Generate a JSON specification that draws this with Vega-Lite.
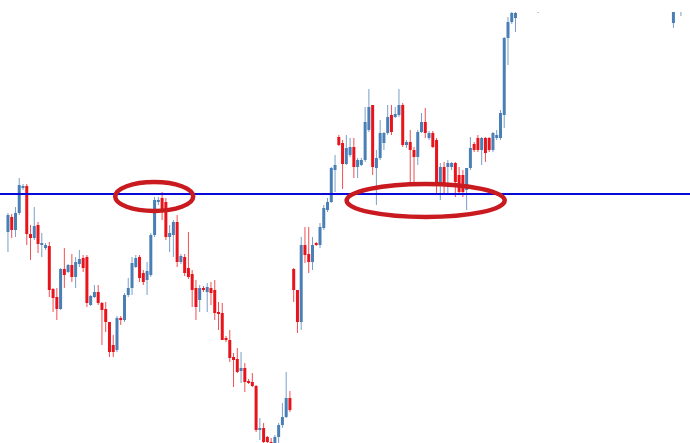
{
"$schema": "https://vega.github.io/schema/vega-lite/v6.json",
"width": 690, "height": 431,
"autosize": {"type": "none"},
"padding": {"top": 12, "left": 0, "right": 0, "bottom": 0},
"background": "white",
"config": {"view": {"stroke": null}},
"datasets": {
"candles": [
{"t":0,"o":211,"c":228,"h":230,"l":191},
{"t":1,"o":226,"c":213,"h":229,"l":205},
{"t":2,"o":213,"c":230,"h":236,"l":206},
{"t":3,"o":230,"c":258,"h":265,"l":228},
{"t":4,"o":255,"c":257,"h":259,"l":253},
{"t":5,"o":257,"c":209,"h":259,"l":198},
{"t":6,"o":209,"c":205,"h":218,"l":183},
{"t":7,"o":205,"c":217,"h":236,"l":203},
{"t":8,"o":218,"c":199,"h":221,"l":190},
{"t":9,"o":198,"c":200,"h":210,"l":186},
{"t":10,"o":195,"c":198,"h":200,"l":193},
{"t":11,"o":197,"c":153,"h":201,"l":146},
{"t":12,"o":154,"c":145,"h":155,"l":131},
{"t":13,"o":146,"c":134,"h":155,"l":123},
{"t":14,"o":134,"c":174,"h":175,"l":133},
{"t":15,"o":174,"c":168,"h":195,"l":155},
{"t":16,"o":171,"c":178,"h":179,"l":170},
{"t":17,"o":178,"c":166,"h":189,"l":161},
{"t":18,"o":166,"c":181,"h":186,"l":155},
{"t":19,"o":179,"c":184,"h":193,"l":176},
{"t":20,"o":185,"c":175,"h":188,"l":171},
{"t":21,"o":186,"c":140,"h":188,"l":136},
{"t":22,"o":138,"c":147,"h":148,"l":137},
{"t":23,"o":146,"c":151,"h":158,"l":145},
{"t":24,"o":151,"c":140,"h":158,"l":138},
{"t":25,"o":140,"c":133,"h":141,"l":98},
{"t":26,"o":134,"c":121,"h":141,"l":111},
{"t":27,"o":121,"c":91,"h":121,"l":86},
{"t":28,"o":98,"c":91,"h":108,"l":86},
{"t":29,"o":93,"c":125,"h":127,"l":91},
{"t":30,"o":125,"c":123,"h":127,"l":118},
{"t":31,"o":123,"c":148,"h":150,"l":121},
{"t":32,"o":148,"c":155,"h":165,"l":146},
{"t":33,"o":155,"c":180,"h":186,"l":148},
{"t":34,"o":176,"c":185,"h":188,"l":175},
{"t":35,"o":186,"c":165,"h":188,"l":161},
{"t":36,"o":170,"c":161,"h":173,"l":158},
{"t":37,"o":163,"c":172,"h":181,"l":148},
{"t":38,"o":168,"c":208,"h":210,"l":166},
{"t":39,"o":208,"c":243,"h":246,"l":206},
{"t":40,"o":241,"c":243,"h":246,"l":238},
{"t":41,"o":245,"c":233,"h":251,"l":223},
{"t":42,"o":241,"c":206,"h":245,"l":203},
{"t":43,"o":206,"c":210,"h":218,"l":191},
{"t":44,"o":208,"c":221,"h":223,"l":186},
{"t":45,"o":221,"c":181,"h":228,"l":176},
{"t":46,"o":181,"c":187,"h":189,"l":179},
{"t":47,"o":186,"c":170,"h":189,"l":167},
{"t":48,"o":175,"c":166,"h":211,"l":164},
{"t":49,"o":169,"c":153,"h":173,"l":136},
{"t":50,"o":155,"c":136,"h":163,"l":123},
{"t":51,"o":143,"c":155,"h":158,"l":131},
{"t":52,"o":155,"c":153,"h":157,"l":151},
{"t":53,"o":151,"c":156,"h":160,"l":131},
{"t":54,"o":155,"c":150,"h":161,"l":138},
{"t":55,"o":153,"c":130,"h":163,"l":123},
{"t":56,"o":131,"c":129,"h":141,"l":113},
{"t":57,"o":130,"c":103,"h":140,"l":103},
{"t":58,"o":105,"c":103,"h":107,"l":101},
{"t":59,"o":103,"c":85,"h":113,"l":81},
{"t":60,"o":86,"c":83,"h":90,"l":56},
{"t":61,"o":84,"c":71,"h":95,"l":70},
{"t":62,"o":72,"c":75,"h":91,"l":60},
{"t":63,"o":75,"c":61,"h":80,"l":51},
{"t":64,"o":62,"c":60,"h":64,"l":59},
{"t":65,"o":61,"c":57,"h":70,"l":56},
{"t":66,"o":57,"c":13,"h":58,"l":11},
{"t":67,"o":13,"c":15,"h":25,"l":3},
{"t":68,"o":15,"c":1,"h":20,"l":-2},
{"t":69,"o":6,"c":1,"h":7,"l":-3},
{"t":70,"o":1,"c":-7,"h":5,"l":-12},
{"t":71,"o":-7,"c":6,"h":8,"l":-9},
{"t":72,"o":6,"c":18,"h":20,"l":-2},
{"t":73,"o":18,"c":26,"h":40,"l":15},
{"t":74,"o":26,"c":45,"h":71,"l":25},
{"t":75,"o":45,"c":33,"h":52,"l":31},
{"t":76,"o":174,"c":153,"h":175,"l":141},
{"t":77,"o":153,"c":121,"h":153,"l":110},
{"t":78,"o":121,"c":198,"h":206,"l":113},
{"t":79,"o":198,"c":188,"h":216,"l":180},
{"t":80,"o":189,"c":181,"h":216,"l":170},
{"t":81,"o":181,"c":198,"h":206,"l":173},
{"t":82,"o":200,"c":198,"h":201,"l":197},
{"t":83,"o":198,"c":216,"h":220,"l":195},
{"t":84,"o":215,"c":235,"h":238,"l":213},
{"t":85,"o":233,"c":241,"h":245,"l":231},
{"t":86,"o":241,"c":275,"h":276,"l":240},
{"t":87,"o":273,"c":278,"h":288,"l":251},
{"t":88,"o":306,"c":298,"h":308,"l":297},
{"t":89,"o":300,"c":279,"h":303,"l":254},
{"t":90,"o":279,"c":295,"h":308,"l":278},
{"t":91,"o":288,"c":296,"h":305,"l":286},
{"t":92,"o":296,"c":276,"h":305,"l":265},
{"t":93,"o":276,"c":283,"h":285,"l":265},
{"t":94,"o":278,"c":283,"h":285,"l":277},
{"t":95,"o":283,"c":321,"h":336,"l":281},
{"t":96,"o":313,"c":336,"h":354,"l":311},
{"t":97,"o":338,"c":276,"h":338,"l":268},
{"t":98,"o":275,"c":285,"h":293,"l":238},
{"t":99,"o":285,"c":310,"h":323,"l":283},
{"t":100,"o":300,"c":310,"h":311,"l":293},
{"t":101,"o":310,"c":326,"h":338,"l":308},
{"t":102,"o":328,"c":311,"h":338,"l":308},
{"t":103,"o":326,"c":329,"h":336,"l":325},
{"t":104,"o":328,"c":338,"h":354,"l":326},
{"t":105,"o":338,"c":298,"h":340,"l":296},
{"t":106,"o":298,"c":301,"h":303,"l":295},
{"t":107,"o":301,"c":293,"h":313,"l":261},
{"t":108,"o":293,"c":286,"h":296,"l":260},
{"t":109,"o":286,"c":311,"h":313,"l":278},
{"t":110,"o":311,"c":321,"h":330,"l":310},
{"t":111,"o":321,"c":310,"h":335,"l":305},
{"t":112,"o":305,"c":310,"h":312,"l":303},
{"t":113,"o":310,"c":296,"h":312,"l":295},
{"t":114,"o":303,"c":261,"h":305,"l":248},
{"t":115,"o":260,"c":276,"h":280,"l":243},
{"t":116,"o":276,"c":260,"h":281,"l":248},
{"t":117,"o":276,"c":280,"h":283,"l":248},
{"t":118,"o":276,"c":280,"h":281,"l":273},
{"t":119,"o":280,"c":261,"h":281,"l":246},
{"t":120,"o":268,"c":251,"h":276,"l":248},
{"t":121,"o":268,"c":251,"h":273,"l":246},
{"t":122,"o":253,"c":275,"h":275,"l":233},
{"t":123,"o":275,"c":295,"h":306,"l":273},
{"t":124,"o":299,"c":293,"h":301,"l":291},
{"t":125,"o":305,"c":293,"h":308,"l":291},
{"t":126,"o":293,"c":305,"h":306,"l":278},
{"t":127,"o":305,"c":290,"h":306,"l":281},
{"t":128,"o":305,"c":293,"h":306,"l":291},
{"t":129,"o":293,"c":310,"h":311,"l":291},
{"t":130,"o":305,"c":308,"h":313,"l":303},
{"t":131,"o":305,"c":330,"h":333,"l":303},
{"t":132,"o":328,"c":405,"h":406,"l":315},
{"t":133,"o":405,"c":421,"h":426,"l":378},
{"t":134,"o":421,"c":430,"h":433,"l":419},
{"t":135,"o":425,"c":430,"h":433,"l":411},
{"t":136,"o":432,"c":445,"h":455,"l":431},
{"t":138,"o":436,"c":448,"h":460,"l":431},
{"t":141,"o":438,"c":450,"h":462,"l":430},
{"t":177,"o":420,"c":440,"h":455,"l":415},
{"t":179,"o":432,"c":446,"h":460,"l":427}
],
"level": [{"p": 249}],
"ring1": [{"t": 38.9, "p": 246.5}],
"ring2": [{"t": 111.1, "p": 242.5}]
},
"layer": [
{
"data": {"name": "candles"},
"mark": {"type": "rule", "strokeWidth": 1, "opacity": 0.75, "clip": true},
"encoding": {
"x": {"field": "t", "type": "quantitative", "scale": {"domain": [-0.786, 180.08], "nice": false, "zero": false}, "axis": null},
"y": {"field": "l", "type": "quantitative", "scale": {"domain": [0, 431], "nice": false, "zero": false}, "axis": null},
"y2": {"field": "h"},
"color": {"condition": {"test": "datum.c > datum.o", "value": "#4a7fb6"}, "value": "#e8141b"}
}
},
{
"data": {"name": "candles"},
"mark": {"type": "bar", "width": 3, "clip": true},
"encoding": {
"x": {"field": "t", "type": "quantitative"},
"y": {"field": "o", "type": "quantitative"},
"y2": {"field": "c"},
"color": {"condition": {"test": "datum.c > datum.o", "value": "#4a7fb6"}, "value": "#e8141b"}
}
},
{
"data": {"name": "level"},
"mark": {"type": "rule", "color": "#0808d8", "strokeWidth": 2},
"encoding": {"y": {"field": "p", "type": "quantitative"}}
},
{
"data": {"name": "ring1"},
"mark": {"type": "point", "filled": false, "stroke": "#c81a1f", "strokeWidth": 4.5, "opacity": 1, "size": 6084,
"shape": "M1,0C1,0.205,0.552,0.372,0,0.372C-0.552,0.372,-1,0.205,-1,0C-1,-0.205,-0.552,-0.372,0,-0.372C0.552,-0.372,1,-0.205,1,0Z"},
"encoding": {"x": {"field": "t", "type": "quantitative"}, "y": {"field": "p", "type": "quantitative"}}
},
{
"data": {"name": "ring2"},
"mark": {"type": "point", "filled": false, "stroke": "#c81a1f", "strokeWidth": 4.5, "opacity": 1, "size": 24964,
"shape": "M1,0C1,0.115,0.552,0.209,0,0.209C-0.552,0.209,-1,0.115,-1,0C-1,-0.115,-0.552,-0.209,0,-0.209C0.552,-0.209,1,-0.115,1,0Z"},
"encoding": {"x": {"field": "t", "type": "quantitative"}, "y": {"field": "p", "type": "quantitative"}}
}
]
}
